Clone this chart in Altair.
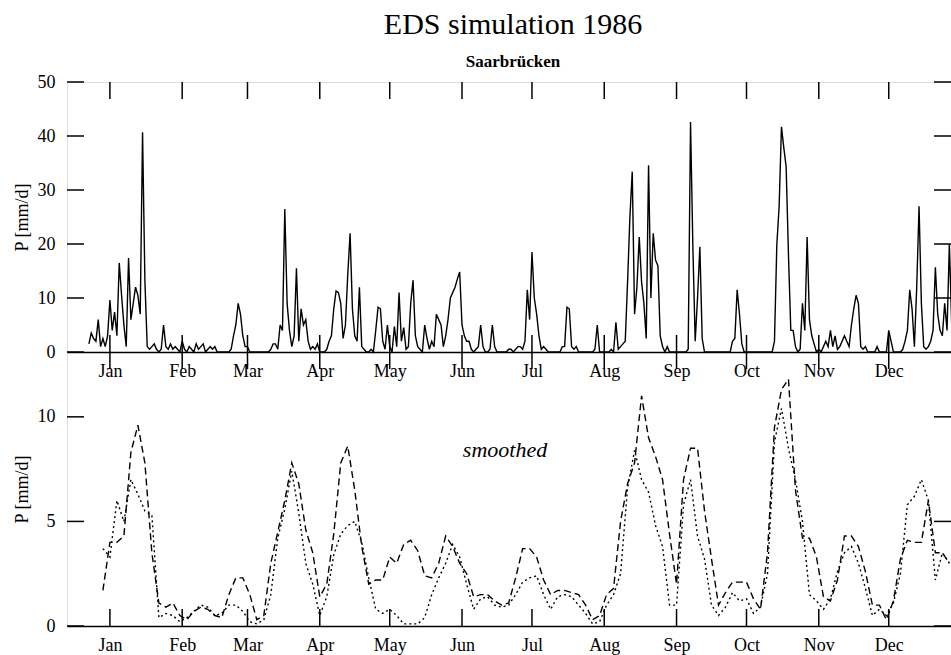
import altair as alt
import pandas as pd

FONT = "Liberation Serif"

# ---------------- data ----------------
MONTHS = ["Jan", "Feb", "Mar", "Apr", "May", "Jun", "Jul", "Aug", "Sep", "Oct", "Nov", "Dec"]
MONTH_START = [1, 32, 60, 91, 121, 152, 182, 213, 244, 274, 305, 335]

TOP_TICKS = [0, 10, 20, 30, 40, 50]
BOT_TICKS = [0, 5, 10]

# daily precipitation [mm/d], first value is day -8 (end of previous December)
dec_prev = [1.5, 3.5, 2.5, 2, 6, 1, 2.5, 1, 3]
jan = [9.6, 4, 7.4, 3, 16.5, 10.5, 5, 1, 17.4, 6, 9, 12, 10.5, 7, 40.7, 13.3, 1, 0.5, 1, 1.5,
       0.5, 0, 0.5, 5, 1, 0.5, 1.5, 0.5, 1, 0.5, 0]
feb = [2, 0.5, 0, 1, 0.5, 0, 1.5, 0.5, 1, 1.5, 0, 0.5, 1, 0.5, 1, 0, 0, 0, 0, 0, 0, 0.5,
       3, 5, 9, 7, 3, 1]
mar = [1, 0, 0, 0, 0, 0, 0, 0, 0, 0, 0.5, 1.5, 1.5, 0.5, 5, 4, 26.5, 9, 4, 1, 3, 15.5, 2,
       8, 5, 6, 2, 0.5, 1, 0.5, 1.5]
apr = [0, 0, 0, 0.5, 2, 3, 8, 11.3, 11, 9, 2.5, 5, 14.3, 22, 8, 3, 2, 12, 1, 0.5, 0, 0,
       0.5, 0, 4, 8.3, 8, 2, 0.5, 5]
may = [1, 0, 4.7, 1, 11, 2, 4.5, 0.5, 1, 9, 13.3, 3, 1, 0.5, 0, 5, 2.5, 0.5, 2, 1, 7, 6, 5,
       1, 3, 6, 10, 11, 12, 13.5, 14.8]
jun = [5, 3, 2, 2, 0.5, 0, 0.5, 1, 5, 1, 0, 0, 0.5, 5, 1, 0, 0, 0, 0, 0, 0.5, 0.5, 0, 0.5,
       1, 1, 0.5, 2, 11.5, 6]
jul = [18.5, 10, 7, 3, 0.5, 1, 0.5, 0, 0, 0, 0, 0, 0, 1, 1, 8.3, 8, 1, 0.5, 1, 0, 0, 0, 0,
       0, 0, 0, 0.5, 5, 0, 0]
aug = [0, 0, 0, 0.5, 0, 5.5, 0.5, 1, 1.5, 2, 13, 25, 33.4, 7, 12, 21.3, 13, 9, 2.5, 34.6,
       10, 22, 17, 16, 3, 1, 0, 1, 0, 0, 0]
sep = [0, 0, 0, 0, 0, 0.5, 42.6, 19.5, 2, 10, 19.5, 2.5, 0, 0, 0, 0, 0, 0, 0, 0, 0, 0, 0,
       0, 2, 2.5, 11.5, 7, 1.5, 0]
oct_ = [0, 0, 0, 0, 0, 0, 0, 0, 0, 0, 0, 0, 2, 19.8, 27, 41.7, 37.8, 34.3, 18, 4, 4, 1, 0,
        0.5, 9, 4, 21.3, 6, 3, 1.5, 0]
nov = [0.5, 0, 1, 2, 1, 4, 1, 3, 0.5, 1, 2, 3, 2, 1, 5, 8, 10.5, 9, 1, 0.5, 1, 0, 0, 0, 0,
       1, 0, 0, 0, 0]
dec = [4, 2, 0, 0, 0, 0, 0.5, 2, 4, 11.5, 8, 1, 12, 27, 9, 1, 0.5, 1, 2, 4, 15.7, 7, 4, 3,
       9, 4, 20, 5, 2, 1, 0.5]

# smoothed series, sampled every 3 days starting at day -2
SMOOTH_START, SMOOTH_STEP = -2, 3
smooth_a = [1.7, 4.0, 4.0, 4.3, 8.3, 9.6, 7.8, 3.5, 1.1, 0.9,
            1.1, 0.5, 0.3, 0.7, 0.9, 0.8, 0.5, 0.4, 1.5, 2.3,
            2.3, 1.5, 0.3, 0.5, 3.0, 4.5, 6.0, 7.8, 6.8, 4.6,
            3.5, 1.4, 2.0, 4.4, 7.8, 8.6, 6.5, 3.8, 2.0, 2.2,
            2.2, 3.3, 3.0, 3.9, 4.1, 3.6, 2.4, 2.3, 3.0, 4.3,
            3.8, 3.0, 2.5, 1.4, 1.5, 1.5, 1.2, 1.0, 1.1, 2.3,
            3.7, 3.7, 3.3, 2.2, 1.5, 1.7, 1.7, 1.6, 1.5, 1.0,
            0.3, 0.5, 1.5, 1.8, 5.0, 6.8, 7.8, 11.0, 9.0, 8.1,
            7.0, 4.4, 2.0, 7.0, 8.5, 8.5, 5.5, 3.2, 1.0, 1.6,
            2.1, 2.1, 2.1, 1.3, 0.8, 3.5, 9.5, 11.3, 11.8, 6.5,
            4.2, 4.2, 3.3, 1.4, 1.2, 2.2, 4.3, 4.3, 3.8, 2.6,
            1.0, 1.0, 0.3, 1.2, 3.2, 4.1, 4.0, 4.0, 6.0, 3.5,
            3.5, 3.0]
smooth_b = [3.7, 3.3, 6.0, 5.0, 7.0, 6.3, 5.5, 5.3, 0.4, 0.6,
            0.5, 0.2, 0.4, 0.7, 1.0, 0.9, 0.5, 0.6, 1.0, 1.0,
            0.7, 0.2, 0.1, 0.3, 1.5, 4.2, 5.6, 7.4, 5.4, 3.0,
            2.0, 0.5, 1.4, 3.4, 4.4, 4.8, 5.0, 4.0, 2.3, 0.8,
            0.6, 0.8, 0.5, 0.1, 0.1, 0.1, 0.4, 1.5, 2.3, 3.0,
            3.9, 3.3, 2.0, 0.8, 1.3, 1.4, 1.0, 0.9, 1.0, 1.5,
            2.1, 2.3, 2.4, 1.5, 0.8, 1.4, 1.5, 1.4, 1.0, 0.6,
            0.1, 0.2, 1.0, 1.5, 2.5, 6.6, 8.4, 7.0, 6.4, 4.8,
            3.8, 1.0, 1.0, 5.8, 7.0, 4.3, 3.2, 1.0, 0.5, 0.9,
            1.6, 1.2, 1.3, 0.6, 0.9, 2.5, 8.8, 10.4, 8.5, 7.0,
            5.0, 1.5, 1.2, 0.8, 1.3, 2.6, 3.5, 3.8, 3.0, 1.8,
            0.5, 0.8, 0.5, 1.1, 2.5, 5.8, 6.2, 7.0, 6.0, 2.2,
            3.5, 3.0]

# ---------------- tables ----------------
daily = dec_prev + jan + feb + mar + apr + may + jun + jul + aug + sep + oct_ + nov + dec
top_df = pd.DataFrame({"day": list(range(-8, -8 + len(daily))), "p": daily})

sm_days = [SMOOTH_START + SMOOTH_STEP * i for i in range(len(smooth_a))]
bot_df = pd.concat([
    pd.DataFrame({"day": sm_days, "p": smooth_a, "s": "a"}),
    pd.DataFrame({"day": sm_days, "p": smooth_b, "s": "b"}),
])
month_df = pd.DataFrame({"day": MONTH_START})
top_tick_df = pd.DataFrame({"v": TOP_TICKS})
bot_tick_df = pd.DataFrame({"v": BOT_TICKS})

# ---------------- geometry ----------------
W, H, TOP_H = 884, 544, 270
TL = 17  # tick length

xscale = alt.Scale(domain=[-17.4, 361.7], nice=False, zero=False)
top_y = alt.Scale(domain=[0, 50], range=[TOP_H, 0], nice=False, zero=False)
bot_y = alt.Scale(domain=[0, 13.1], range=[H, TOP_H], nice=False, zero=False)

month_expr = ("[" + ",".join("'%s'" % m for m in MONTHS) + "][indexof(["
              + ",".join(str(d) for d in MONTH_START) + "], datum.value)]")

common_axis = dict(grid=False, ticks=False, tickSize=0, labelFont=FONT, labelFontSize=18,
                   labelColor="black", titleFont=FONT, titleFontSize=18, titleColor="black",
                   titleFontWeight="normal")


def x_month_axis(offset):
    return alt.Axis(values=MONTH_START, labelExpr=month_expr, orient="bottom", offset=offset,
                    domain=True, domainColor="black", domainWidth=1.5, labelPadding=10,
                    title=None, **common_axis)


top_line = alt.Chart(top_df).mark_line(color="black", strokeWidth=1.4, clip=True).encode(
    x=alt.X("day:Q", scale=xscale, axis=x_month_axis(-(H - TOP_H))),
    y=alt.Y("p:Q", scale=top_y,
            axis=alt.Axis(values=TOP_TICKS, orient="left", domain=False, labelPadding=12,
                          title="P [mm/d]", titlePadding=6, **common_axis)),
)

bot_lines = alt.Chart(bot_df).mark_line(color="black", strokeWidth=1.4, clip=True).encode(
    x=alt.X("day:Q", scale=xscale, axis=x_month_axis(0)),
    y=alt.Y("p:Q", scale=bot_y,
            axis=alt.Axis(values=BOT_TICKS, orient="left", domain=False, labelPadding=12,
                          title="P [mm/d]", titlePadding=6, **common_axis)),
    strokeDash=alt.StrokeDash("s:N", scale=alt.Scale(domain=["a", "b"], range=[[7, 4], [2, 3]]),
                              legend=None),
    detail="s:N",
)

nox = alt.X("day:Q", scale=xscale, axis=None)
tick_top = alt.Chart(month_df).mark_rule(color="black", strokeWidth=1.5).encode(
    x=nox, y=alt.value(0), y2=alt.value(TL))
tick_mid = alt.Chart(month_df).mark_rule(color="black", strokeWidth=1.5).encode(
    x=nox, y=alt.value(TOP_H - TL), y2=alt.value(TOP_H + TL))
tick_bot = alt.Chart(month_df).mark_rule(color="black", strokeWidth=1.5).encode(
    x=nox, y=alt.value(H - TL), y2=alt.value(H))

ty = alt.Y("v:Q", scale=top_y, axis=None)
by = alt.Y("v:Q", scale=bot_y, axis=None)
ytick_tl = alt.Chart(top_tick_df).mark_rule(color="black", strokeWidth=1.5).encode(
    y=ty, x=alt.value(0), x2=alt.value(TL))
ytick_tr = alt.Chart(top_tick_df).mark_rule(color="black", strokeWidth=1.5).encode(
    y=ty, x=alt.value(W - TL), x2=alt.value(W))
ytick_bl = alt.Chart(bot_tick_df).mark_rule(color="black", strokeWidth=1.5).encode(
    y=by, x=alt.value(0), x2=alt.value(TL))
ytick_br = alt.Chart(bot_tick_df).mark_rule(color="black", strokeWidth=1.5).encode(
    y=by, x=alt.value(W - TL), x2=alt.value(W))

label = alt.Chart(pd.DataFrame({"t": ["smoothed"]})).mark_text(
    font=FONT, fontSize=22, fontStyle="italic", color="black", align="center", baseline="middle"
).encode(text="t:N", x=alt.value(438), y=alt.value(368))

chart = alt.layer(
    top_line, bot_lines, tick_top, tick_mid, tick_bot,
    ytick_tl, ytick_tr, ytick_bl, ytick_br, label,
).resolve_scale(y="independent").resolve_axis(x="independent", y="independent").properties(
    width=W, height=H,
    title=alt.TitleParams(text="EDS simulation 1986", subtitle="Saarbrücken", font=FONT,
                          fontSize=30, fontWeight="normal", color="black", subtitleFont=FONT,
                          subtitleFontSize=17, subtitleFontWeight="bold", subtitleColor="black",
                          anchor="middle", offset=3, subtitlePadding=14, dx=4),
    padding={"left": 67, "top": 82, "right": 0, "bottom": 29},
    autosize=alt.AutoSizeParams(type="none"),
).configure_view(stroke="black", strokeWidth=1.5).configure(background="white")

chart.save("out.html", embed_options={"renderer": "svg", "actions": False})
